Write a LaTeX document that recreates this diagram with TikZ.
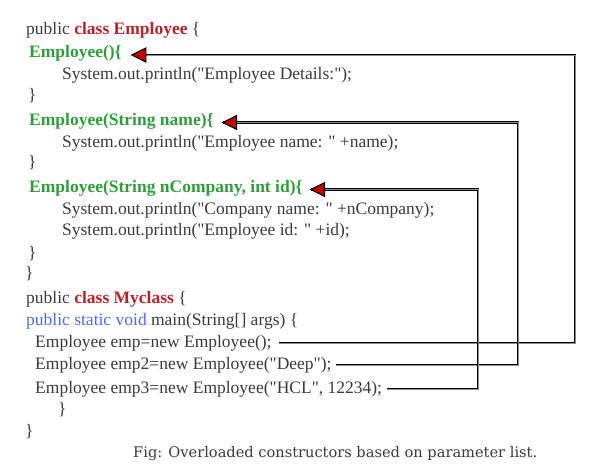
\documentclass[tikz,border=0pt]{standalone}
\usepackage{fontspec}
\newfontfamily\codefont{Liberation Serif}
\newfontfamily\capfont{DejaVu Serif}
\definecolor{codegray}{HTML}{3A3A3A}
\definecolor{kwred}{HTML}{B8232B}
\definecolor{ctgreen}{HTML}{2F9E3A}
\definecolor{kwblue}{HTML}{4C6BF4}
\definecolor{arrred}{HTML}{C00000}
\begin{document}
\begin{tikzpicture}[x=1bp,y=-1bp,
  code/.style={anchor=base west,inner sep=0pt,text=codegray,font=\codefont\fontsize{17.5bp}{20bp}\selectfont},
  ctor/.style={code,text=ctgreen,font=\codefont\fontsize{17.5bp}{20bp}\selectfont\bfseries},
  conn/.style={draw=black,line width=1bp,double=black!45,double distance=0.6bp},
  arrowhead/.style={fill=arrred,draw=black,line width=1bp,line join=miter}]
\useasboundingbox (0,0) rectangle (604,471);
\fill[white] (0,0) rectangle (604,471);
\node[code] (l1) at (26,35) {public \textcolor{kwred}{\bfseries class Employee} \{};
\node[ctor] (c1) at (29,58) {Employee()\{};
\node[code] (l3) at (62,80) {System.out.println("Employee Details:");};
\node[code] (l4) at (28,101) {\}};
\node[ctor] (c2) at (29,126) {Employee(String name)\{};
\node[code] (l6) at (62,148) {System.out.println("Employee name: " +name);};
\node[code] (l7) at (28,168) {\}};
\node[ctor] (c3) at (29,193) {Employee(String nCompany, int id)\{};
\node[code] (l9) at (62,215) {System.out.println("Company name: " +nCompany);};
\node[code] (l10) at (62,236) {System.out.println("Employee id: " +id);};
\node[code] (l11) at (28,259) {\}};
\node[code] (l12) at (25,279) {\}};
\node[code] (l13) at (26,303) {public \textcolor{kwred}{\bfseries class Myclass} \{};
\node[code] (l14) at (26,325) {\textcolor{kwblue}{public static void} main(String[] args) \{};
\node[code] (e1) at (35,347) {Employee emp=new Employee();};
\node[code] (e2) at (35,369) {Employee emp2=new Employee("Deep");};
\node[code] (e3) at (35,393) {Employee emp3=new Employee("HCL", 12234);};
\node[code] (l18) at (58,414) {\}};
\node[code] (l19) at (25,436) {\}};
\node[anchor=base west,inner sep=0pt,text=codegray,font=\capfont\fontsize{14.6bp}{16bp}\selectfont] (cap) at (133,457) {Fig: Overloaded constructors based on parameter list.};
% connector anchors
\coordinate (s1) at ([xshift=7bp,yshift=4bp]e1.base east);
\coordinate (s2) at ([xshift=4bp,yshift=4bp]e2.base east);
\coordinate (s3) at ([xshift=5bp,yshift=4bp]e3.base east);
\coordinate (t1) at ([xshift=10bp,yshift=3bp]c1.base east);
\coordinate (t2) at ([xshift=9bp,yshift=3.5bp]c2.base east);
\coordinate (t3) at ([xshift=8bp,yshift=3.5bp]c3.base east);
\coordinate (r1) at (575,0);
\coordinate (r2) at (518,0);
\coordinate (r3) at (478,0);
\draw[conn] (s1) -- (s1 -| r1) |- (t1);
\draw[conn] (s2) -- (s2 -| r2) |- (t2);
\draw[conn] (s3) -- (s3 -| r3) |- (t3);
\foreach \t in {t1,t2,t3}{
  \filldraw[arrowhead] (\t) -- ++(14,-7) -- ++(0,14) -- cycle;
}
\end{tikzpicture}
\end{document}
